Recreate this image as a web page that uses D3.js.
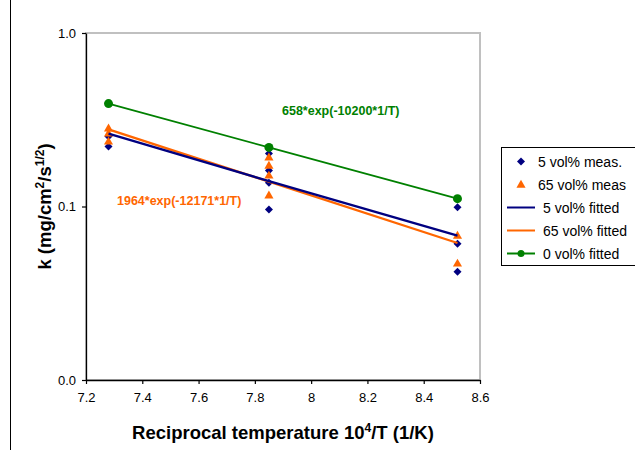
<!DOCTYPE html>
<html>
<head>
<meta charset="utf-8">
<script src="https://cdn.jsdelivr.net/npm/d3@7"></script>
<style>
  html, body { margin: 0; padding: 0; background: #fff; }
  svg { display: block; font-family: "Liberation Sans", Arial, sans-serif; }
</style>
</head>
<body>
<svg id="chart" width="635" height="450"></svg>
<script>
// ---- data ----
const xPositions = [7.28, 7.85, 8.52];
const xTickValues = [7.2, 7.4, 7.6, 7.8, 8.0, 8.2, 8.4, 8.6];
const xTickLabels = ["7.2", "7.4", "7.6", "7.8", "8", "8.2", "8.4", "8.6"];
const yTickValues = [0.01, 0.1, 1];
const yTickLabels = ["0.0", "0.1", "1.0"];

// measured points [x, k]
const meas5 = [
  [7.28, 0.253], [7.28, 0.222],
  [7.85, 0.202], [7.85, 0.161], [7.85, 0.137], [7.85, 0.096],
  [8.52, 0.099], [8.52, 0.061], [8.52, 0.042]
];
const meas65 = [
  [7.28, 0.282], [7.28, 0.264], [7.28, 0.237],
  [7.85, 0.192], [7.85, 0.172], [7.85, 0.151], [7.85, 0.116],
  [8.52, 0.068], [8.52, 0.047]
];
// fitted values at xPositions
const fit5 = [0.263, 0.140, 0.068];
const fit65 = [0.278, 0.139, 0.0616];
const fit0 = [0.392, 0.219, 0.111];

const legendLabels = ["5 vol% meas.", "65 vol% meas", "5 vol% fitted", "65 vol% fitted", "0 vol% fitted"];
const xTitle = "Reciprocal temperature 10";
const label0 = "658*exp(-10200*1/T)";
const label65 = "1964*exp(-12171*1/T)";

// ---- colours ----
const NAVY = "#000080", ORANGE = "#FF6600", GREEN = "#008000";

const svg = d3.select("#chart");
const plot = { left: 86, right: 480, top: 33, bottom: 380 };

const x = d3.scaleLinear().domain([7.2, 8.6]).range([plot.left, plot.right]);
const y = d3.scaleLog().domain([0.01, 1]).range([plot.bottom, plot.top]);

// outer frame line on left
svg.append("line").attr("x1", 10.5).attr("x2", 10.5).attr("y1", 0).attr("y2", 450)
  .attr("stroke", "#000").attr("stroke-width", 1);

// plot area border (gray)
svg.append("rect")
  .attr("x", plot.left).attr("y", plot.top)
  .attr("width", plot.right - plot.left).attr("height", plot.bottom - plot.top)
  .attr("fill", "none").attr("stroke", "#c0c0c0").attr("stroke-width", 2);

// axes
const xAxis = d3.axisBottom(x).tickValues(xTickValues)
  .tickFormat((d, i) => xTickLabels[i]).tickSize(4).tickSizeOuter(0).tickPadding(9);
const gx = svg.append("g").attr("transform", `translate(0,${plot.bottom})`).call(xAxis);

const yAxis = d3.axisLeft(y).tickValues(yTickValues)
  .tickFormat((d, i) => yTickLabels[i]).tickSize(4).tickSizeOuter(0).tickPadding(6);
const gy = svg.append("g").attr("transform", `translate(${plot.left},0)`).call(yAxis);

[gx, gy].forEach(g => {
  g.select(".domain").attr("stroke", "#000").attr("stroke-width", 1.3);
  g.selectAll(".tick line").attr("stroke", "#000").attr("stroke-width", 1.2);
  g.selectAll(".tick text").attr("font-size", 13).attr("fill", "#000")
    .attr("font-family", "Liberation Sans, Arial, sans-serif");
});

// symbols
const diamond = d3.symbol().type(d3.symbolDiamond2 || d3.symbolDiamond).size(48);
const diamondPath = d3.symbol().type(d3.symbolSquare).size(40);
const tri = d3.symbol().type(d3.symbolTriangle).size(36);

function drawDiamond(g, cx, cy) {
  g.append("path").attr("d", d3.symbol().type(d3.symbolSquare).size(32)())
    .attr("transform", `translate(${cx},${cy}) rotate(45)`).attr("fill", NAVY);
}
function drawTri(g, cx, cy) {
  g.append("path").attr("d", tri()).attr("transform", `translate(${cx},${cy + 0.5})`).attr("fill", ORANGE);
}

// measured markers
const gm = svg.append("g");
meas5.forEach(d => drawDiamond(gm, x(d[0]), y(d[1])));
meas65.forEach(d => drawTri(gm, x(d[0]), y(d[1])));

// fitted lines
const line = d3.line().x(d => x(d[0])).y(d => y(d[1]));
const zipFit = arr => xPositions.map((xv, i) => [xv, arr[i]]);

svg.append("path").datum(zipFit(fit65)).attr("d", line)
  .attr("fill", "none").attr("stroke", ORANGE).attr("stroke-width", 2.3);
svg.append("path").datum(zipFit(fit5)).attr("d", line)
  .attr("fill", "none").attr("stroke", NAVY).attr("stroke-width", 2.3);
svg.append("path").datum(zipFit(fit0)).attr("d", line)
  .attr("fill", "none").attr("stroke", GREEN).attr("stroke-width", 1.8);
svg.append("g").selectAll("circle").data(zipFit(fit0)).join("circle")
  .attr("cx", d => x(d[0])).attr("cy", d => y(d[1])).attr("r", 4.5).attr("fill", GREEN);

// annotations
svg.append("text").attr("x", 282).attr("y", 115).attr("font-size", 12.5).attr("font-weight", "bold")
  .attr("fill", GREEN).text(label0);
svg.append("text").attr("x", 117).attr("y", 205).attr("font-size", 12.5).attr("font-weight", "bold")
  .attr("fill", ORANGE).text(label65);

// x title
const xt = svg.append("text").attr("x", (plot.left + plot.right) / 2).attr("y", 439)
  .attr("text-anchor", "middle").attr("font-size", 18.5).attr("font-weight", "bold").attr("fill", "#000");
xt.append("tspan").text(xTitle);
xt.append("tspan").attr("font-size", 12).attr("dy", -7).text("4");
xt.append("tspan").attr("dy", 7).text("/T (1/K)");

// y title
const yt = svg.append("text").attr("transform", `translate(51,${(plot.top + plot.bottom) / 2}) rotate(-90)`)
  .attr("text-anchor", "middle").attr("font-size", 18.5).attr("font-weight", "bold").attr("fill", "#000");
yt.append("tspan").text("k (mg/cm");
yt.append("tspan").attr("font-size", 12).attr("dy", -7).text("2");
yt.append("tspan").attr("dy", 7).text("/s");
yt.append("tspan").attr("font-size", 12).attr("dy", -7).text("1/2");
yt.append("tspan").attr("dy", 7).text(")");

// legend
const lg = svg.append("g");
lg.append("rect").attr("x", 501.5).attr("y", 147.5).attr("width", 145).attr("height", 118)
  .attr("fill", "#fff").attr("stroke", "#000").attr("stroke-width", 1);
const rowY = [161.5, 184.5, 207.5, 230.5, 253.5];
const textX = [538, 538, 543, 543, 543];
// row 0: diamond
drawDiamond(lg, 521, rowY[0]);
drawTri(lg, 521, rowY[1]);
lg.append("line").attr("x1", 507).attr("x2", 535).attr("y1", rowY[2]).attr("y2", rowY[2]).attr("stroke", NAVY).attr("stroke-width", 2);
lg.append("line").attr("x1", 507).attr("x2", 535).attr("y1", rowY[3]).attr("y2", rowY[3]).attr("stroke", ORANGE).attr("stroke-width", 2);
lg.append("line").attr("x1", 507).attr("x2", 535).attr("y1", rowY[4]).attr("y2", rowY[4]).attr("stroke", GREEN).attr("stroke-width", 2);
lg.append("circle").attr("cx", 521).attr("cy", rowY[4]).attr("r", 3.5).attr("fill", GREEN);
legendLabels.forEach((t, i) => {
  lg.append("text").attr("x", textX[i]).attr("y", rowY[i]).attr("dy", "0.36em")
    .attr("font-size", 14).attr("fill", "#000").text(t);
});
</script>
</body>
</html>
